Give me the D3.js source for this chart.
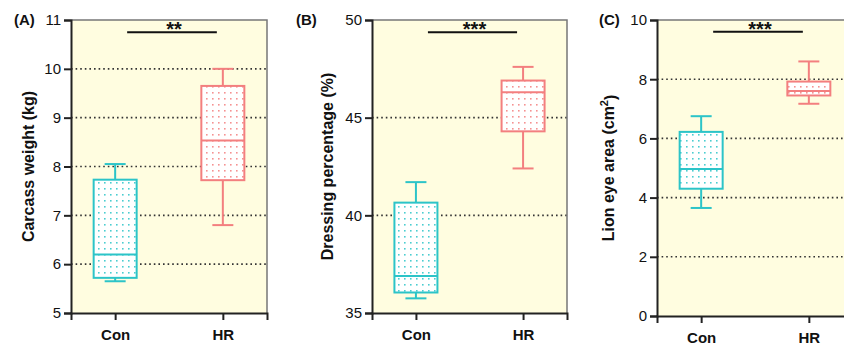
<!DOCTYPE html>
<meta charset="utf-8">
<style>
    body { margin: 0; background: #fff; }
    text { font-family: Arial, "Liberation Sans", sans-serif; fill: #111; }
</style>

<body>
    <svg width="844" height="345"></svg>
    <script src="https://d3js.org/d3.v7.min.js"></script>
    <script>
        // groups and box stats: [min, q1, median, q3, max]
        var groups = ["Con", "HR"];
        var carcassCon = [5.65, 5.72, 6.2, 7.73, 8.05];
        var carcassHR = [6.8, 7.72, 8.53, 9.65, 10.0];
        var dressingCon = [35.75, 36.05, 36.9, 40.65, 41.7];
        var dressingHR = [42.4, 44.3, 46.3, 46.9, 47.6];
        var loinCon = [3.65, 4.3, 4.97, 6.22, 6.75];
        var loinHR = [7.17, 7.45, 7.6, 7.92, 8.6];
        var carcassTicks = [5, 6, 7, 8, 9, 10, 11];
        var dressingTicks = [35, 40, 45, 50];
        var loinTicks = [0, 2, 4, 6, 8, 10];
        var signif = ["**", "***", "***"];

        var colors = { Con: "#2cc4c8", HR: "#f37f7f" };

        var svg = d3.select("svg");
        var defs = svg.append("defs");

        groups.forEach(function (g) {
            var p = defs.append("pattern")
                .attr("id", "dots-" + g)
                .attr("patternUnits", "userSpaceOnUse")
                .attr("width", 6).attr("height", 6);
            p.append("rect").attr("width", 6).attr("height", 6).attr("fill", "#fff");
            p.append("rect").attr("x", 2).attr("y", 2).attr("width", 1.6).attr("height", 1.6)
                .attr("fill", colors[g]).attr("opacity", 0.85);
        });

        var panels = [
            { tag: "(A)", title: "Carcass weight (kg)", left: 71, right: 267, top: 20, bottom: 313,
              domain: [5, 11], ticks: carcassTicks, data: [carcassCon, carcassHR], sig: signif[0],
              tagX: 14, titleX: 28, sigY: 10.75 },
            { tag: "(B)", title: "Dressing percentage (%)", left: 372, right: 567, top: 20, bottom: 313,
              domain: [35, 50], ticks: dressingTicks, data: [dressingCon, dressingHR], sig: signif[1],
              tagX: 296, titleX: 327, sigY: 49.37 },
            { tag: "(C)", title: "Lion eye area (cm²)", left: 657, right: 853, top: 20, bottom: 316,
              domain: [0, 10], ticks: loinTicks, data: [loinCon, loinHR], sig: signif[2],
              tagX: 599, titleX: 608, sigY: 9.6 }
        ];

        panels.forEach(function (pn) {
            var g = svg.append("g");
            var x = d3.scalePoint().domain(groups).range([pn.left, pn.right]).padding(0.41);
            var y = d3.scaleLinear().domain(pn.domain).range([pn.bottom, pn.top]);

            g.append("rect")
                .attr("x", pn.left).attr("y", pn.top)
                .attr("width", pn.right - pn.left).attr("height", pn.bottom - pn.top)
                .attr("fill", "#fffde0");

            // dotted gridlines
            g.selectAll(".grid")
                .data(pn.ticks.slice(1, -1))
                .enter().append("line")
                .attr("x1", pn.left).attr("x2", pn.right)
                .attr("y1", function (d) { return y(d); })
                .attr("y2", function (d) { return y(d); })
                .attr("stroke", "#333")
                .attr("stroke-width", 1.6)
                .attr("stroke-dasharray", "1.6,3");

            // top and right border
            g.append("path")
                .attr("d", "M" + pn.left + "," + pn.top + "H" + pn.right + "V" + pn.bottom)
                .attr("fill", "none")
                .attr("stroke", "#777").attr("stroke-width", 1.5);

            var boxW = 43, capW = 21;
            pn.data.forEach(function (s, i) {
                var grp = groups[i], cx = x(grp), c = colors[grp];
                var b = g.append("g");
                b.append("line").attr("x1", cx).attr("x2", cx)
                    .attr("y1", y(s[4])).attr("y2", y(s[3]))
                    .attr("stroke", c).attr("stroke-width", 2);
                b.append("line").attr("x1", cx).attr("x2", cx)
                    .attr("y1", y(s[1])).attr("y2", y(s[0]))
                    .attr("stroke", c).attr("stroke-width", 2);
                [s[0], s[4]].forEach(function (v) {
                    b.append("line").attr("x1", cx - capW / 2).attr("x2", cx + capW / 2)
                        .attr("y1", y(v)).attr("y2", y(v))
                        .attr("stroke", c).attr("stroke-width", 2);
                });
                b.append("rect")
                    .attr("x", cx - boxW / 2).attr("y", y(s[3]))
                    .attr("width", boxW).attr("height", y(s[1]) - y(s[3]))
                    .attr("fill", "url(#dots-" + grp + ")")
                    .attr("stroke", c).attr("stroke-width", 2);
                b.append("line").attr("x1", cx - boxW / 2).attr("x2", cx + boxW / 2)
                    .attr("y1", y(s[2])).attr("y2", y(s[2]))
                    .attr("stroke", c).attr("stroke-width", 2);
            });

            // axes
            var ya = g.append("g")
                .attr("transform", "translate(" + pn.left + ",0)")
                .call(d3.axisLeft(y).tickValues(pn.ticks).tickFormat(d3.format("d"))
                    .tickSize(7).tickPadding(3));
            ya.select(".domain").attr("stroke", "#222").attr("stroke-width", 2);
            ya.selectAll(".tick line").attr("stroke", "#222").attr("stroke-width", 2);
            ya.selectAll(".tick text").attr("fill", "#111")
                .style("font-size", "15px").style("font-family", "Arial, 'Liberation Sans', sans-serif");

            var xa = g.append("g")
                .attr("transform", "translate(0," + pn.bottom + ")")
                .call(d3.axisBottom(x).tickSize(7).tickPadding(9));
            xa.select(".domain").attr("stroke", "#222").attr("stroke-width", 2);
            xa.selectAll(".tick line").attr("stroke", "#222").attr("stroke-width", 2);
            xa.selectAll(".tick text").attr("fill", "#111")
                .style("font-size", "15px").style("font-weight", "bold")
                .style("font-family", "Arial, 'Liberation Sans', sans-serif");

            // significance bar
            var sy = y(pn.sigY);
            var sx1 = x("Con") + 12, sx2 = x("HR") - 6;
            g.append("line")
                .attr("x1", sx1).attr("x2", sx2)
                .attr("y1", sy).attr("y2", sy)
                .attr("stroke", "#111").attr("stroke-width", 2);
            g.append("text")
                .attr("x", (sx1 + sx2) / 2 + 2)
                .attr("y", sy + 4)
                .attr("text-anchor", "middle")
                .style("font-size", "20px").style("font-weight", "bold")
                .text(pn.sig);

            // panel tag
            g.append("text")
                .attr("x", pn.tagX).attr("y", pn.top + 5)
                .style("font-size", "15px").style("font-weight", "bold")
                .text(pn.tag);

            // y title
            var t = g.append("text")
                .attr("transform", "translate(" + pn.titleX + "," + ((pn.top + pn.bottom) / 2) + ") rotate(-90)")
                .attr("text-anchor", "middle")
                .attr("dy", "0.35em")
                .style("font-size", "16px").style("font-weight", "bold");
            if (pn.tag === "(C)") {
                t.append("tspan").text("Lion eye area (cm");
                t.append("tspan").attr("dy", "-0.5em").style("font-size", "11px").text("2");
                t.append("tspan").attr("dy", "0.5em").text(")");
            } else {
                t.text(pn.title);
            }
        });
    </script>
</body>
